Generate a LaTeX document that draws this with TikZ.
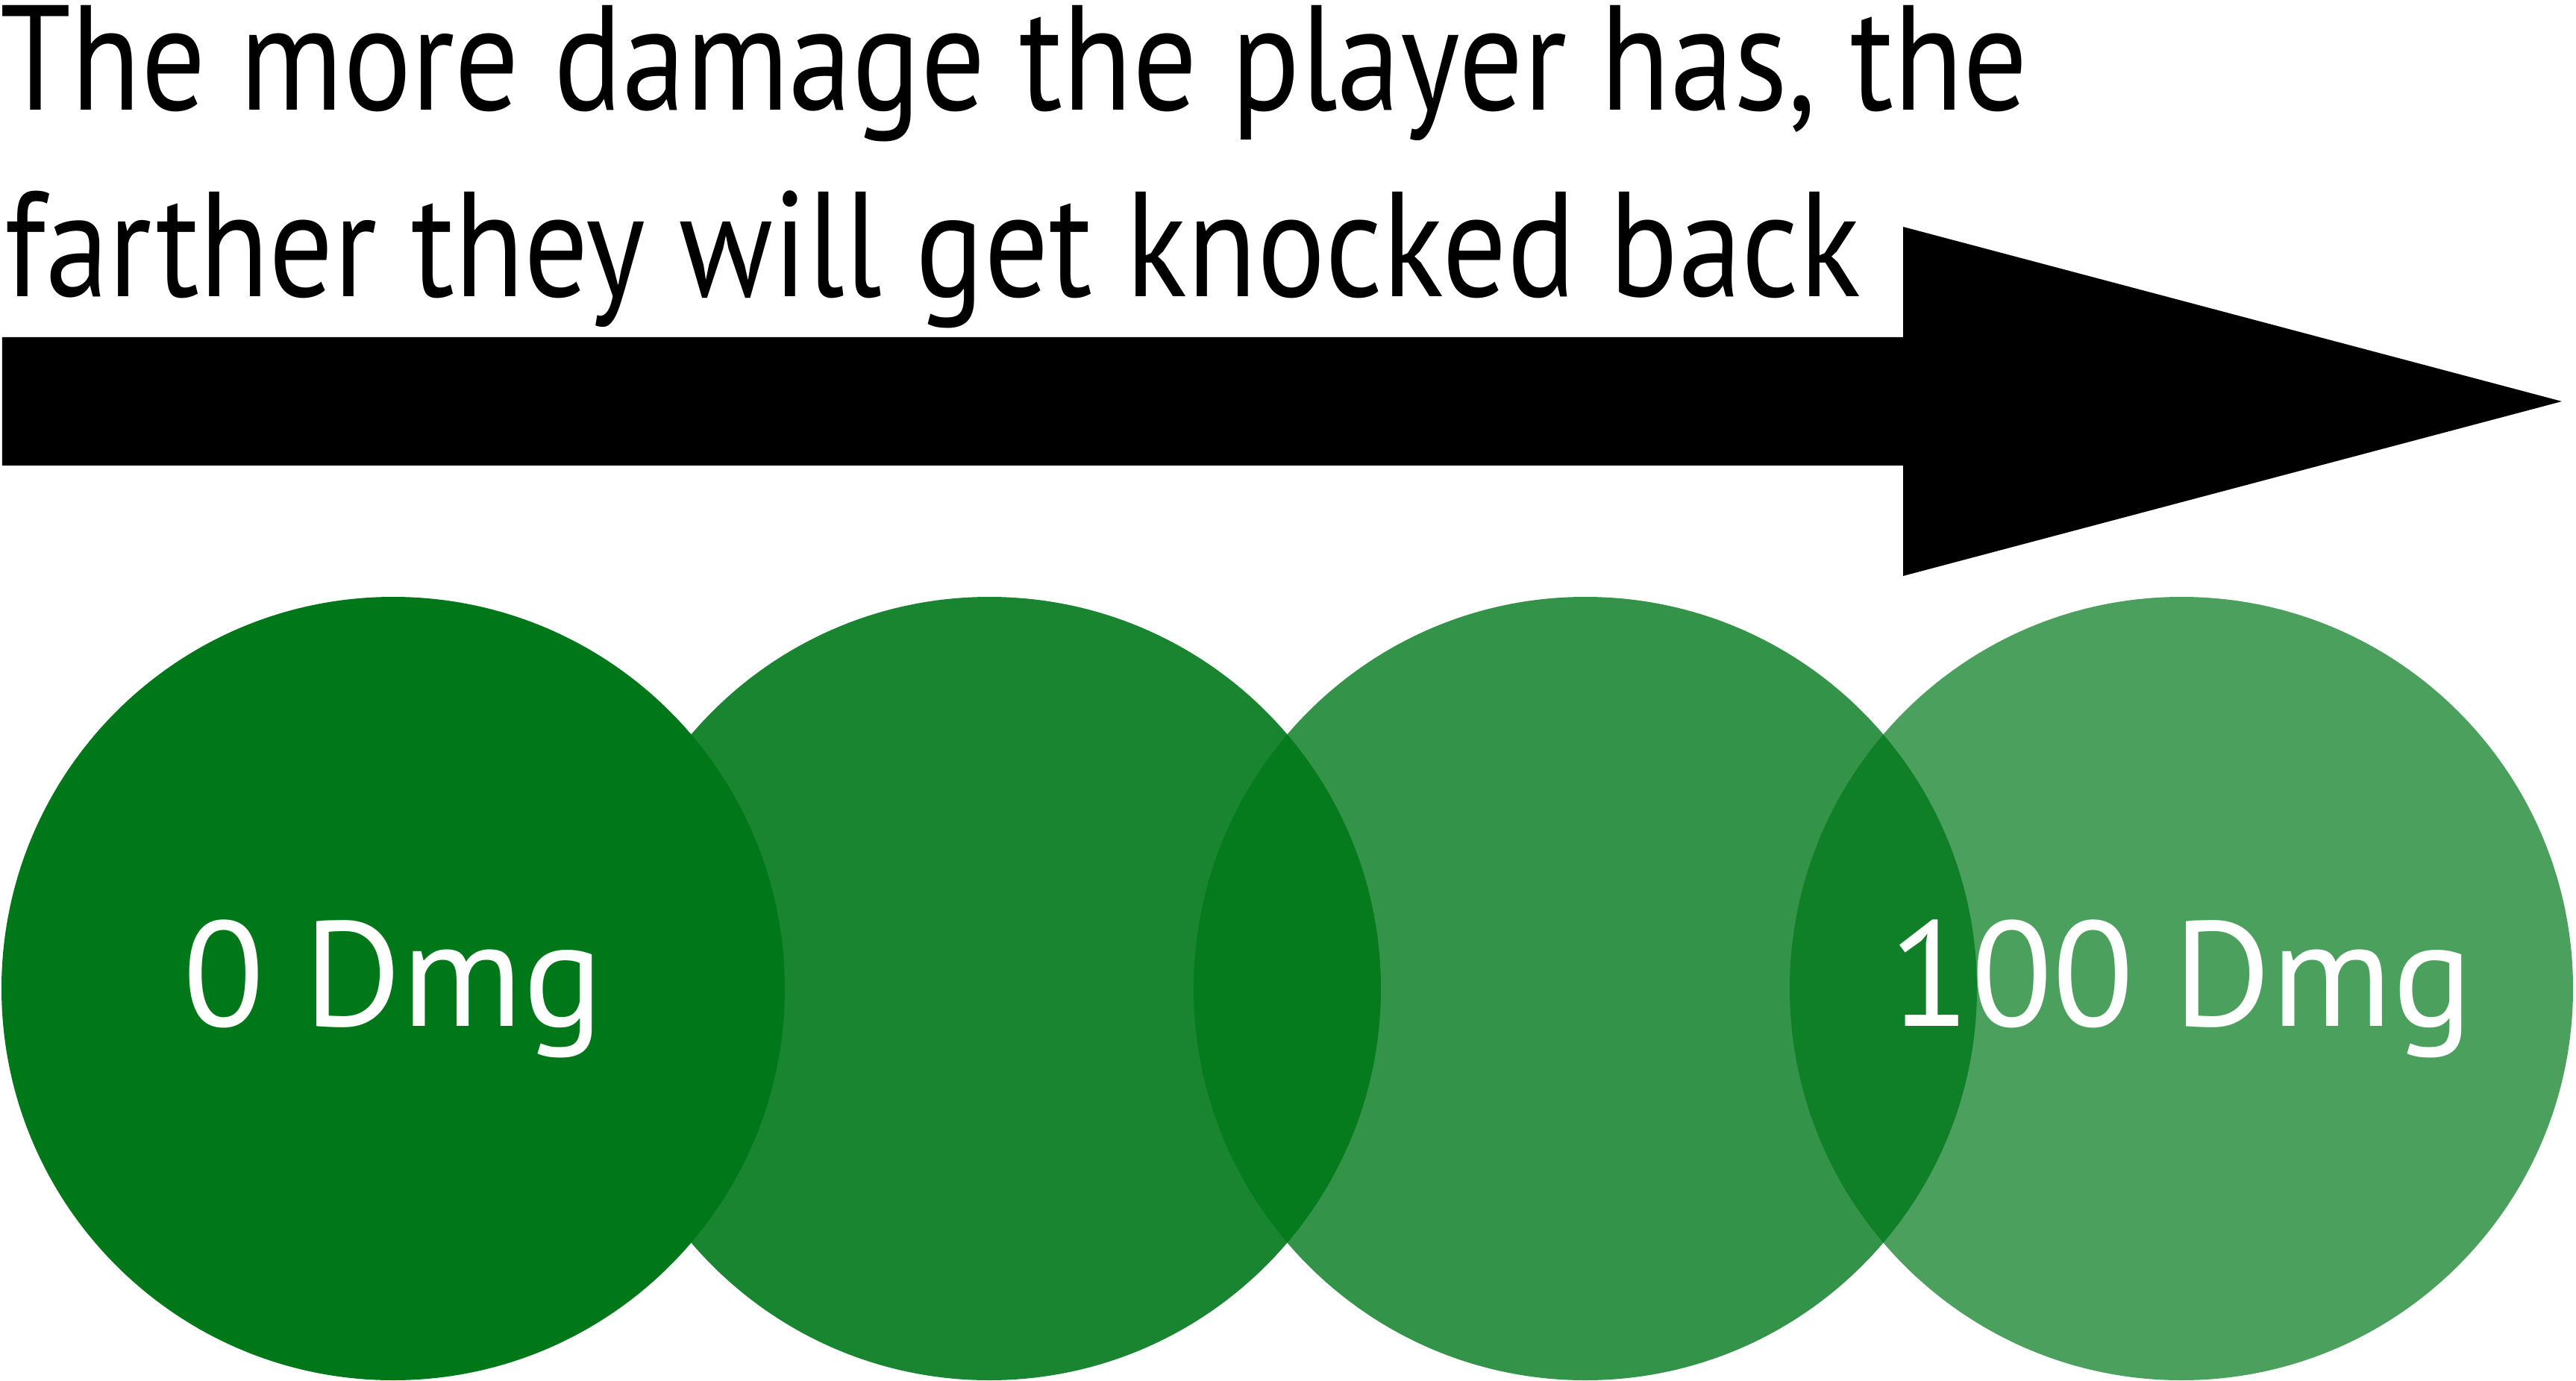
\documentclass[tikz,border=0pt]{standalone}
\usepackage{fontspec}
\setsansfont{PT Sans}
\newfontfamily\headfont{PT Sans}[FakeStretch=0.853]
\usetikzlibrary{positioning}
\definecolor{DmgGreen}{RGB}{0,120,26}

\begin{document}
\begin{tikzpicture}[
    font=\sffamily,
    headline/.style={anchor=base west, inner sep=0pt, text=black,
        font=\headfont\fontsize{57}{60}\selectfont},
    dmgcircle/.style={circle, fill=DmgGreen, minimum size=10.5cm, inner sep=0pt},
    dmglabel/.style={anchor=base, inner sep=0pt, text=white,
        font=\sffamily\fontsize{57}{60}\selectfont},
]
\useasboundingbox (0,0) rectangle (34.53,-18.51);

% Ueberschrift
\node[headline] (line1) at (0,-1.48) {The more damage the player has, the};
\node[headline] (line2) at (0.06,-3.98) {farther they will get knocked back};

% Pfeil
\fill[black] (0.03,-4.52) -- (25.51,-4.52) -- (25.51,-3.04) -- (34.34,-5.38)
    -- (25.51,-7.72) -- (25.51,-6.24) -- (0.03,-6.24) -- cycle;

% Kreise, nach rechts heller
\foreach \x/\op [count=\i] in {5.27/1, 13.26/0.9, 21.25/0.8, 29.24/0.7}{
    \node[dmgcircle, fill opacity=\op] (c\i) at (\x,-13.25) {};
}

\node[dmglabel] (lbl0) at ([yshift=-0.5cm]c1.center) {0 Dmg};
\node[dmglabel] (lbl100) at ([yshift=-0.5cm]c4.center) {100 Dmg};

\end{tikzpicture}
\end{document}
